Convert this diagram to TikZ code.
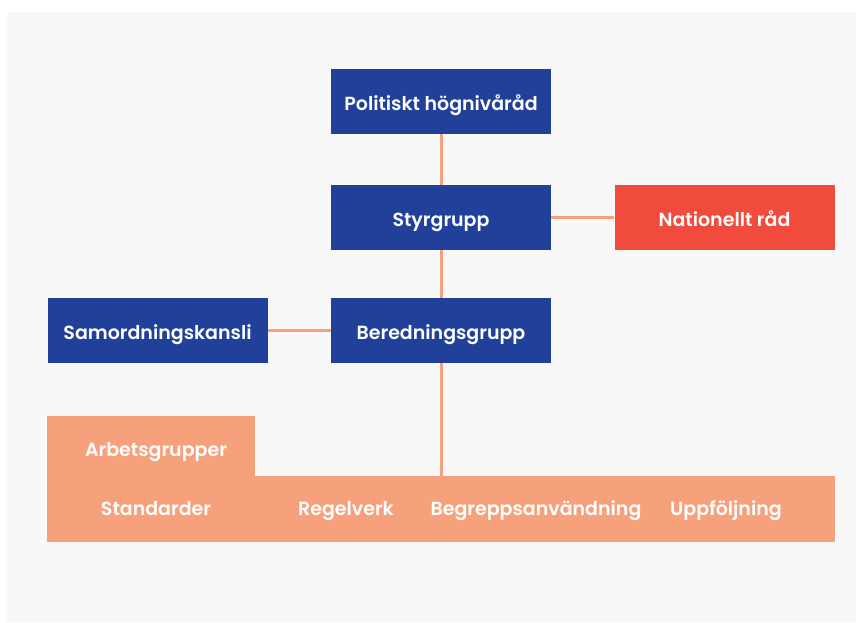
\documentclass[tikz,border=0pt]{standalone}
\usepackage{fontspec}
\newfontfamily\lblfont{Poppins SemiBold}
\definecolor{bluebox}{HTML}{21409A}
\definecolor{redbox}{HTML}{F04B3C}
\definecolor{salmon}{HTML}{F7A07C}
\definecolor{bgcol}{HTML}{F8F8F8}
\tikzset{
  orgbox/.style={fill=bluebox, inner sep=0pt, minimum width=220pt, minimum height=65pt,
    text height=17pt, text depth=0pt,
    text=white, font=\lblfont\fontsize{19}{22}\selectfont},
  redorg/.style={orgbox, fill=redbox},
  areabox/.style={fill=salmon, inner sep=0pt},
  arealabel/.style={text=white, inner sep=0pt, anchor=base, font=\lblfont\fontsize{19}{22}\selectfont},
  link/.style={draw=salmon, line width=3pt}
}
\begin{document}
\begin{tikzpicture}[x=1pt,y=-1pt]
  \useasboundingbox (0,0) rectangle (861,622);
  \fill[white] (0,0) rectangle (861,622);
  \fill[bgcol] (7,12) rectangle (856,622);

  % working-group area: tab plus wide bar
  \node[areabox, minimum width=208pt, minimum height=61pt] (tab) at (151,446) {};
  \node[areabox, minimum width=788pt, minimum height=66pt] (bar) at (441,509) {};

  % free end of the connector on the bar
  \coordinate (barTop) at (441,476);

  % organisation boxes
  \node[orgbox] (pol) at (441,101.5) {Politiskt högnivåråd};
  \node[orgbox] (sty) at (441,217.5) {Styrgrupp};
  \node[redorg] (nat) at (724.5,217.5) {Nationellt råd};
  \node[orgbox] (sam) at (157.5,330.5) {Samordningskansli};
  \node[orgbox] (ber) at (441,330.5) {Beredningsgrupp};

  \draw[link] (pol.south) -- (sty.north);
  \draw[link] (sty.east) -- (nat.west);
  \draw[link] (sty.south) -- (ber.north);
  \draw[link] (sam.east) -- (ber.west);
  \draw[link] (ber.south) -- (barTop);

  % labels of the working groups
  \node[arealabel] (arb) at (156,456) {Arbetsgrupper};
  \node[arealabel] (std) at (156,515.5) {Standarder};
  \node[arealabel] (reg) at (346,515.5) {Regelverk};
  \node[arealabel] (beg) at (536,515.5) {Begreppsanvändning};
  \node[arealabel] (upp) at (726,515.5) {Uppföljning};
\end{tikzpicture}
\end{document}
